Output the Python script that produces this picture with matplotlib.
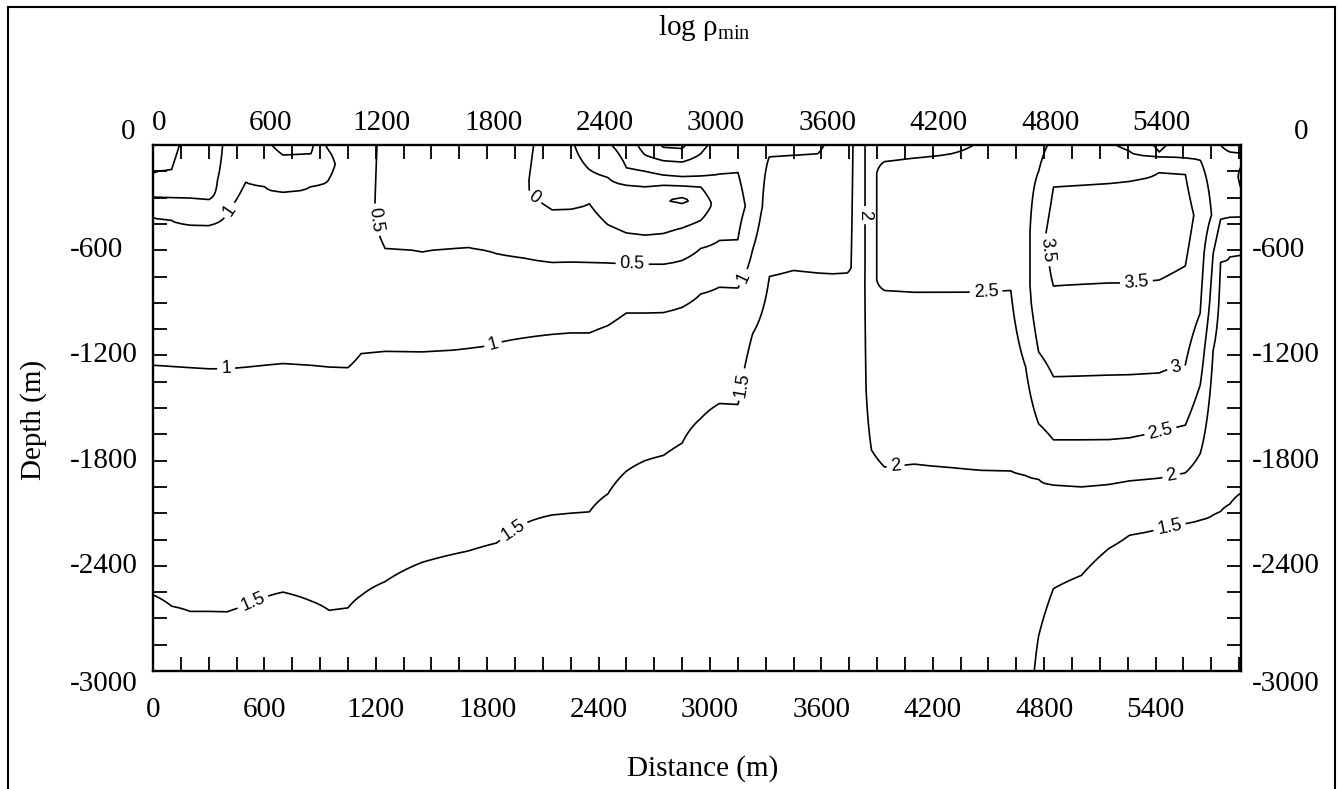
import numpy as np
import matplotlib
matplotlib.use("Agg")
import matplotlib.pyplot as plt
from matplotlib import transforms
from matplotlib.lines import Line2D
from matplotlib.ticker import MultipleLocator

plt.rcParams['font.family'] = ['Liberation Serif', 'DejaVu Serif']
plt.rcParams['mathtext.fontset'] = 'custom'
plt.rcParams['mathtext.rm'] = 'Liberation Serif'
plt.rcParams['axes.unicode_minus'] = False

# stations along the profile (m) and log rho_min soundings read off the section
# each sounding: (depth below surface in m, log rho)
station_x = [0, 100, 200, 300, 400, 500, 600, 700, 850, 950, 1050, 1120, 1250,
             1450, 1700, 1850, 2000, 2150, 2250, 2350, 2450, 2550, 2650, 2750,
             2850, 2950, 3050, 3150, 3230, 3320, 3450, 3580, 3660, 3740, 3800,
             3870, 3940, 4100, 4300, 4460, 4620, 4700, 4770, 4850, 5000, 5150,
             5260, 5420, 5560, 5640, 5710, 5750, 5800, 5860]

soundings = [
    [(0, 0.3), (160, 0.5), (297, 1.0), (354, 1.2), (411, 1.0), (800, 0.7), (1255, 1.0), (2566, 1.5), (2866, 1.65), (3000, 1.72)],
    [(0, 0.35), (140, 0.5), (300, 1.0), (365, 1.2), (430, 1.0), (800, 0.7), (1262, 1.0), (2630, 1.5), (2930, 1.65), (3000, 1.68)],
    [(0, 0.7), (305, 1.0), (380, 1.2), (455, 1.0), (800, 0.7), (1270, 1.0), (2660, 1.5), (2960, 1.65), (3000, 1.67)],
    [(0, 0.7), (312, 1.0), (390, 1.15), (460, 1.0), (800, 0.7), (1275, 1.0), (2660, 1.5), (2960, 1.65), (3000, 1.67)],
    [(0, 1.1), (200, 1.12), (390, 1.0), (800, 0.7), (1275, 1.0), (2663, 1.5), (2963, 1.65), (3000, 1.67)],
    [(0, 1.3), (211, 1.0), (800, 0.7), (1266, 1.0), (2630, 1.5), (2930, 1.65), (3000, 1.68)],
    [(0, 1.4), (235, 1.0), (800, 0.7), (1255, 1.0), (2580, 1.5), (2880, 1.65), (3000, 1.7)],
    [(0, 1.65), (57, 1.5), (270, 1.0), (800, 0.7), (1245, 1.0), (2550, 1.5), (2850, 1.65), (3000, 1.7)],
    [(0, 1.6), (50, 1.5), (235, 1.0), (800, 0.7), (1255, 1.0), (2600, 1.5), (2900, 1.65), (3000, 1.68)],
    [(0, 0.85), (35, 1.0), (110, 1.1), (190, 1.0), (800, 0.7), (1265, 1.0), (2655, 1.5), (2955, 1.65), (3000, 1.67)],
    [(0, 0.8), (600, 0.7), (1270, 1.0), (2640, 1.5), (2940, 1.65), (3000, 1.67)],
    [(0, 0.6), (400, 0.6), (700, 0.7), (1190, 1.0), (2570, 1.5), (2870, 1.65), (3000, 1.7)],
    [(0, 0.45), (450, 0.42), (590, 0.5), (1175, 1.0), (2490, 1.5), (2790, 1.65), (3000, 1.72)],
    [(0, 0.3), (610, 0.5), (1180, 1.0), (2380, 1.5), (2680, 1.65), (3000, 1.72)],
    [(0, 0.3), (587, 0.5), (1160, 1.0), (2315, 1.5), (2615, 1.65), (3000, 1.72)],
    [(0, 0.2), (620, 0.5), (1130, 1.0), (2270, 1.5), (2570, 1.65), (3000, 1.72)],
    [(0, 0.1), (280, 0.03), (645, 0.5), (1100, 1.0), (1250, 1.2), (2160, 1.5), (2460, 1.65), (3000, 1.72)],
    [(0, -0.2), (200, -0.25), (370, 0.0), (670, 0.5), (1080, 1.0), (1230, 1.2), (2110, 1.5), (2410, 1.65), (3000, 1.72)],
    [(0, -0.05), (150, -0.15), (300, -0.2), (365, 0.0), (667, 0.5), (1072, 1.0), (1222, 1.2), (2100, 1.5), (2400, 1.65), (3000, 1.72)],
    [(0, 0.2), (140, 0.0), (240, -0.15), (335, 0.0), (670, 0.5), (1072, 1.0), (1222, 1.2), (2093, 1.5), (2393, 1.65), (3000, 1.72)],
    [(0, 0.45), (185, 0.0), (320, -0.25), (455, 0.0), (672, 0.5), (1030, 1.0), (1180, 1.2), (1990, 1.5), (2290, 1.65), (3000, 1.72)],
    [(0, 0.7), (130, 0.5), (230, 0.0), (370, -0.3), (502, 0.0), (677, 0.5), (958, 1.0), (1108, 1.2), (1860, 1.5), (2160, 1.65), (3000, 1.72)],
    [(0, 1.2), (57, 1.0), (150, 0.5), (237, 0.0), (380, -0.3), (515, 0.0), (680, 0.5), (958, 1.0), (1108, 1.2), (1800, 1.5), (2100, 1.65), (3000, 1.72)],
    [(0, 1.55), (15, 1.5), (90, 1.0), (172, 0.5), (230, 0.0), (316, -0.45), (505, 0.0), (680, 0.5), (955, 1.0), (1105, 1.2), (1770, 1.5), (2070, 1.65), (3000, 1.72)],
    [(0, 1.6), (20, 1.5), (97, 1.0), (180, 0.5), (233, 0.0), (300, -0.5), (316, -0.65), (332, -0.5), (473, 0.0), (658, 0.5), (925, 1.0), (1075, 1.2), (1700, 1.5), (2000, 1.65), (3000, 1.72)],
    [(0, 1.1), (50, 1.0), (178, 0.5), (240, 0.0), (330, -0.3), (430, 0.0), (590, 0.5), (850, 1.0), (1000, 1.2), (1560, 1.5), (1760, 1.65), (3000, 1.72)],
    [(0, 0.85), (165, 0.5), (350, 0.2), (545, 0.5), (811, 1.0), (961, 1.2), (1475, 1.5), (1675, 1.65), (3000, 1.72)],
    [(0, 0.8), (155, 0.5), (350, 0.35), (540, 0.5), (815, 1.0), (965, 1.2), (1480, 1.5), (1680, 1.65), (3000, 1.72)],
    [(0, 0.8), (350, 0.65), (595, 1.0), (1075, 1.5), (1275, 1.65), (3000, 1.72)],
    [(0, 0.8), (65, 1.0), (400, 1.3), (750, 1.5), (1050, 1.65), (3000, 1.72)],
    [(0, 0.8), (57, 1.0), (400, 1.3), (715, 1.5), (1015, 1.65), (3000, 1.72)],
    [(0, 0.9), (50, 1.0), (400, 1.3), (730, 1.5), (1030, 1.65), (3000, 1.72)],
    [(0, 1.13), (300, 1.3), (735, 1.5), (1035, 1.65), (3000, 1.72)],
    [(0, 1.4), (700, 1.45), (730, 1.5), (1030, 1.65), (3000, 1.72)],
    [(0, 1.6), (700, 1.6), (1400, 1.72), (3000, 1.72)],
    [(0, 2.4), (800, 2.4), (1400, 2.2), (1740, 2.0), (2200, 1.8), (3000, 1.7)],
    [(0, 2.3), (95, 2.5), (160, 2.65), (770, 2.65), (830, 2.5), (1300, 2.3), (1836, 2.0), (2300, 1.8), (3000, 1.7)],
    [(0, 2.3), (74, 2.5), (200, 2.75), (750, 2.75), (840, 2.5), (1300, 2.3), (1820, 2.0), (2300, 1.8), (3000, 1.7)],
    [(0, 2.35), (50, 2.5), (200, 2.75), (750, 2.75), (838, 2.5), (1300, 2.3), (1840, 2.0), (2300, 1.8), (3000, 1.7)],
    [(0, 2.55), (100, 2.7), (750, 2.8), (835, 2.5), (1300, 2.3), (1855, 2.0), (2300, 1.8), (3000, 1.7)],
    [(0, 2.6), (100, 2.75), (750, 2.85), (827, 2.5), (1300, 2.3), (1859, 2.0), (2300, 1.8), (3000, 1.7)],
    [(0, 2.7), (150, 2.85), (800, 2.85), (1265, 2.5), (1600, 2.25), (1884, 2.0), (2300, 1.8), (3000, 1.7)],
    [(0, 2.85), (150, 3.0), (500, 3.3), (900, 3.3), (1180, 3.0), (1590, 2.5), (1905, 2.0), (2300, 1.8), (2800, 1.5), (3000, 1.4)],
    [(0, 3.1), (240, 3.5), (500, 3.7), (805, 3.5), (1322, 3.0), (1682, 2.5), (1940, 2.0), (2530, 1.5), (2800, 1.3), (3000, 1.25)],
    [(0, 3.2), (230, 3.5), (500, 3.75), (795, 3.5), (1318, 3.0), (1682, 2.5), (1950, 2.0), (2455, 1.5), (2755, 1.2), (3000, 1.1)],
    [(0, 3.05), (220, 3.5), (500, 3.75), (787, 3.5), (1313, 3.0), (1680, 2.5), (1935, 2.0), (2300, 1.5), (2600, 1.15), (3000, 1.05)],
    [(0, 2.9), (35, 3.0), (205, 3.5), (500, 3.75), (787, 3.5), (1310, 3.0), (1670, 2.5), (1915, 2.0), (2225, 1.5), (2525, 1.15), (3000, 1.05)],
    [(0, 2.4), (40, 2.5), (65, 3.0), (155, 3.5), (450, 3.8), (770, 3.5), (1300, 3.0), (1640, 2.5), (1900, 2.0), (2190, 1.5), (2490, 1.15), (3000, 1.05)],
    [(0, 2.75), (75, 3.0), (165, 3.5), (400, 3.7), (690, 3.5), (1255, 3.0), (1598, 2.5), (1870, 2.0), (2160, 1.5), (2460, 1.15), (3000, 1.05)],
    [(0, 2.75), (85, 3.0), (400, 3.35), (960, 3.0), (1370, 2.5), (1760, 2.0), (2140, 1.5), (2440, 1.15), (3000, 1.05)],
    [(0, 2.8), (400, 2.95), (620, 2.5), (900, 2.3), (1170, 2.0), (1600, 1.75), (2110, 1.5), (2410, 1.3), (3000, 1.15)],
    [(0, 2.5), (200, 2.8), (425, 2.5), (667, 2.0), (1300, 1.75), (2090, 1.5), (2390, 1.35), (3000, 1.2)],
    [(0, 2.4), (40, 2.5), (200, 2.8), (413, 2.5), (635, 2.0), (1300, 1.75), (2048, 1.5), (2350, 1.35), (3000, 1.2)],
    [(0, 2.35), (46, 2.5), (90, 2.6), (125, 2.5), (185, 2.4), (245, 2.5), (320, 2.6), (411, 2.5), (627, 2.0), (1300, 1.75), (1985, 1.5), (2285, 1.35), (3000, 1.2)],
]

levels = [-0.5, 0, 0.5, 1, 1.5, 2, 2.5, 3, 3.5]

# where the contour values are written on the section (distance, elevation)
label_spots = [(410, -371), (1170, -430), (2030, -330), (2581, -684),
               (3186, -758), (3840, -400), (4487, -838), (4800, -600),
               (5297, -787), (5513, -1283), (5427, -1637), (5486, -1893),
               (4001, -1842), (394, -1266), (1836, -1152), (540, -2612),
               (1949, -2213), (3186, -1369), (5476, -2184)]

x_ticks = [0, 600, 1200, 1800, 2400, 3000, 3600, 4200, 4800, 5400]
y_ticks = [0, -600, -1200, -1800, -2400, -3000]

# grid the soundings onto a common depth axis
depth_grid = np.arange(0, 3001, 10)
cols = []
for s in soundings:
    d = [p[0] for p in s]
    v = [p[1] for p in s]
    cols.append(np.interp(depth_grid, d, v))
Z = np.column_stack(cols)

W, H = 1339, 789
fig = plt.figure(figsize=(W / 100, H / 100), dpi=100)
ax = fig.add_axes([153 / W, 1 - 671 / H, (1241 - 153) / W, (671 - 145) / H])

cs = ax.contour(station_x, -depth_grid, Z, levels=levels, colors='black',
                linewidths=1.2, linestyles='solid')
with plt.rc_context({'font.family': ['Liberation Sans', 'DejaVu Sans']}):
    ax.clabel(cs, manual=label_spots, inline=True, fontsize=13,
              fmt=lambda v: '%g' % v, inline_spacing=4)

ax.set_xlim(0, 5860)
ax.set_ylim(-3000, 0)
ax.set_xticks(x_ticks)
ax.set_yticks(y_ticks)
ax.xaxis.set_minor_locator(MultipleLocator(150))
ax.yaxis.set_minor_locator(MultipleLocator(150))
ax.tick_params(which='both', direction='in', length=10, width=1.3,
               top=True, right=True, labelsize=21,
               labelleft=False, labeltop=False, labelright=False)
ax.tick_params(axis='x', pad=19)
for sp in ax.spines.values():
    sp.set_linewidth(1.7)

# top distance labels (drawn a few pixels right of their ticks, as printed)
top_tr = transforms.offset_copy(
    transforms.blended_transform_factory(ax.transData, fig.transFigure),
    x=6, y=0, units='dots')
for v in x_ticks:
    ax.text(v, 1 - 130 / H, str(v), transform=top_tr, ha='center',
            va='baseline', fontsize=21)

# depth labels on both sides: left-aligned, the 0 sits above the top edge
y_tr = transforms.blended_transform_factory(fig.transFigure, ax.transData)
for v in y_ticks:
    va = 'bottom' if v == 0 else ('top' if v == -3000 else 'center')
    if v == 0:
        ax.text(135 / W, v, str(v), transform=y_tr, ha='right', va=va, fontsize=21)
        ax.text(1294 / W, v, str(v), transform=y_tr, ha='left', va=va, fontsize=21)
    else:
        ax.text(70 / W, v, str(v), transform=y_tr, ha='left', va=va, fontsize=21)
        ax.text(1252 / W, v, str(v), transform=y_tr, ha='left', va=va, fontsize=21)

fig.text(704 / W, 1 - 35 / H, r'log $\mathrm{\rho_{min}}$', ha='center',
         va='baseline', fontsize=21)
fig.text(703 / W, 1 - 776 / H, 'Distance (m)', ha='center', va='baseline',
         fontsize=21)
fig.text(34 / W, 1 - 420 / H, 'Depth (m)', ha='center', va='center',
         rotation=90, fontsize=21)

# frame around the whole figure (bottom edge is cut off in the original)
x0, x1, y1 = 8 / W, 1335 / W, 1 - 7 / H
for xs, ys in [([x0, x0], [0, y1]), ([x0, x1], [y1, y1]), ([x1, x1], [y1, 0])]:
    fig.add_artist(Line2D(xs, ys, transform=fig.transFigure, color='black', lw=1.5))

fig.savefig('out.png', dpi=100)
